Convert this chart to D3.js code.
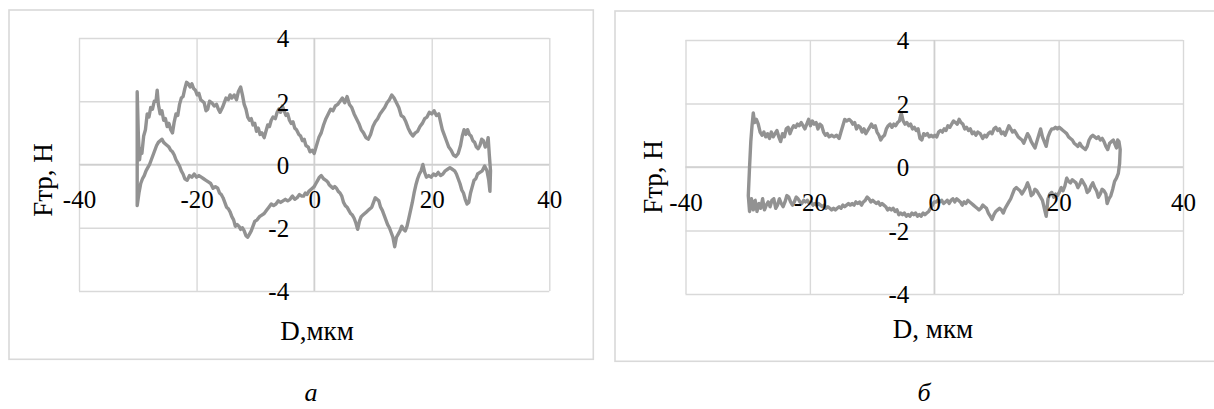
<!DOCTYPE html>
<html>
<head>
<meta charset="utf-8">
<script src="https://cdn.jsdelivr.net/npm/d3@7"></script>
<style>
  html, body { margin: 0; padding: 0; background: #fff; }
  svg { display: block; }
</style>
</head>
<body>
<svg id="fig" width="1214" height="409"></svg>
<script>
// Axis ticks shared by both panels
const dTicks = [-40, -20, 0, 20, 40];
const fTicks = [-4, -2, 0, 2, 4];

// Panel а: friction force loop, upper branch (forward stroke) [D, мкм ; Fтр, Н]
const upperA = [
  [-30.1, -1.3], [-30.1, 2.3], [-29.9, 0.9], [-29.7, 0.15], [-29.5, 0.5], [-29.3, 0.35], [-29.0, 0.9],
  [-28.7, 1.1], [-28.4, 1.6], [-28.1, 1.5], [-27.8, 1.8], [-27.5, 1.75], [-27.2, 2.0], [-26.9, 2.0],
  [-26.7, 2.35], [-26.5, 1.9], [-26.2, 1.6], [-25.9, 1.7], [-25.6, 1.4], [-25.3, 1.45], [-25.0, 1.2],
  [-24.7, 1.3], [-24.4, 1.1], [-24.1, 1.0], [-23.8, 1.35], [-23.5, 1.6], [-23.2, 1.55], [-22.9, 1.9],
  [-22.6, 2.1], [-22.3, 2.15], [-22.0, 2.4], [-21.7, 2.6], [-21.4, 2.55], [-21.1, 2.45], [-20.8, 2.55],
  [-20.5, 2.4], [-20.2, 2.35], [-19.9, 2.2], [-19.6, 2.25], [-19.3, 2.05], [-19.0, 2.0], [-18.7, 1.95],
  [-18.4, 1.7], [-18.1, 1.75], [-17.8, 2.0], [-17.4, 1.95], [-17.0, 1.85], [-16.6, 1.9], [-16.3, 1.75],
  [-16.0, 1.65], [-15.6, 1.8], [-15.3, 1.95], [-15.0, 2.1], [-14.6, 2.05], [-14.3, 2.2], [-14.0, 2.1],
  [-13.6, 2.2], [-13.2, 2.05], [-12.9, 2.3], [-12.5, 2.45], [-12.2, 2.2], [-11.9, 1.9], [-11.6, 1.75],
  [-11.3, 1.5], [-11.0, 1.4], [-10.7, 1.45], [-10.4, 1.25], [-10.1, 1.3], [-9.8, 1.05], [-9.5, 1.15],
  [-9.2, 0.95], [-8.9, 1.0], [-8.5, 0.85], [-8.2, 1.05], [-7.9, 1.25], [-7.6, 1.2], [-7.3, 1.4],
  [-7.0, 1.5], [-6.6, 1.45], [-6.3, 1.65], [-6.0, 1.75], [-5.7, 1.65], [-5.4, 1.85], [-5.1, 1.7],
  [-4.8, 1.55], [-4.5, 1.6], [-4.2, 1.4], [-3.9, 1.3], [-3.6, 1.35], [-3.3, 1.15], [-3.0, 1.1],
  [-2.6, 0.95], [-2.3, 0.9], [-2.0, 0.75], [-1.7, 0.8], [-1.4, 0.6], [-1.0, 0.55], [-0.7, 0.4],
  [-0.3, 0.45], [0.0, 0.35], [0.4, 0.6], [0.8, 0.85], [1.2, 1.0], [1.6, 1.25], [2.0, 1.45], [2.4, 1.6],
  [2.8, 1.75], [3.2, 1.7], [3.6, 1.85], [4.0, 1.9], [4.4, 2.0], [4.8, 2.1], [5.2, 1.95], [5.6, 2.15],
  [6.0, 1.9], [6.4, 1.8], [6.8, 1.6], [7.2, 1.45], [7.6, 1.3], [8.0, 1.1], [8.4, 1.0], [8.8, 0.85],
  [9.2, 0.8], [9.6, 0.95], [10.0, 1.2], [10.4, 1.35], [10.8, 1.45], [11.2, 1.6], [11.6, 1.7],
  [12.0, 1.8], [12.4, 1.95], [12.8, 2.05], [13.2, 2.2], [13.6, 2.1], [14.0, 1.95], [14.4, 1.8],
  [14.8, 1.55], [15.2, 1.5], [15.6, 1.35], [16.0, 1.15], [16.4, 1.0], [16.8, 0.9], [17.2, 1.0],
  [17.6, 1.05], [18.0, 1.2], [18.4, 1.3], [18.8, 1.45], [19.2, 1.5], [19.6, 1.65], [20.0, 1.6],
  [20.4, 1.7], [20.8, 1.55], [21.2, 1.6], [21.5, 1.35], [21.8, 1.1], [22.1, 0.95], [22.5, 0.75],
  [22.9, 0.55], [23.3, 0.45], [23.7, 0.3], [24.1, 0.25], [24.5, 0.35], [24.9, 0.6], [25.2, 0.9],
  [25.5, 1.1], [25.8, 0.95], [26.1, 1.1], [26.4, 0.95], [26.7, 0.9], [27.0, 0.75], [27.3, 0.7],
  [27.6, 0.55], [27.9, 0.5], [28.2, 0.6], [28.5, 0.8], [28.8, 0.75], [29.1, 0.55], [29.4, 0.65],
  [29.6, 0.85], [29.8, 0.3], [30.0, -0.2], [29.9, -0.85], [29.7, -0.5]
];

// Panel а: lower branch (return stroke)
const lowerA = [
  [29.7, -0.5], [29.4, -0.2], [29.0, -0.05], [28.6, -0.2], [28.2, -0.25], [27.8, -0.3], [27.5, -0.45],
  [27.2, -0.5], [26.9, -0.7], [26.6, -0.9], [26.3, -1.2], [26.0, -1.25], [25.7, -1.1], [25.4, -0.9],
  [25.1, -0.8], [24.8, -0.6], [24.5, -0.45], [24.2, -0.3], [23.9, -0.2], [23.5, -0.15], [23.1, -0.1],
  [22.7, -0.15], [22.3, -0.2], [21.9, -0.3], [21.5, -0.35], [21.1, -0.25], [20.7, -0.35], [20.3, -0.3],
  [19.9, -0.4], [19.5, -0.35], [19.1, -0.4], [18.8, -0.25], [18.5, 0.0], [18.2, -0.2], [17.9, -0.3],
  [17.6, -0.45], [17.3, -0.65], [17.0, -0.9], [16.7, -1.2], [16.4, -1.45], [16.1, -1.7], [15.8, -1.95],
  [15.5, -2.1], [15.2, -2.05], [14.9, -1.95], [14.6, -2.1], [14.3, -2.2], [14.0, -2.3], [13.7, -2.6],
  [13.4, -2.3], [13.1, -2.15], [12.8, -2.0], [12.5, -1.9], [12.2, -1.75], [11.9, -1.6], [11.6, -1.45],
  [11.3, -1.35], [11.0, -1.15], [10.7, -1.1], [10.4, -1.05], [10.1, -1.2], [9.8, -1.35], [9.5, -1.4],
  [9.2, -1.45], [8.9, -1.5], [8.6, -1.55], [8.3, -1.6], [8.0, -1.65], [7.7, -1.8], [7.4, -2.05],
  [7.1, -1.85], [6.8, -1.7], [6.5, -1.6], [6.2, -1.55], [5.9, -1.45], [5.6, -1.35], [5.3, -1.3],
  [5.0, -1.2], [4.7, -1.0], [4.4, -0.9], [4.1, -0.85], [3.8, -0.75], [3.5, -0.7], [3.2, -0.75],
  [2.9, -0.7], [2.6, -0.65], [2.3, -0.55], [2.0, -0.5], [1.6, -0.45], [1.2, -0.35], [0.9, -0.4],
  [0.6, -0.5], [0.3, -0.6], [0.0, -0.7], [-0.3, -0.75], [-0.6, -0.8], [-0.9, -0.85], [-1.2, -0.95],
  [-1.5, -0.9], [-1.8, -1.0], [-2.1, -1.0], [-2.5, -0.95], [-2.9, -1.05], [-3.3, -1.1], [-3.7, -1.0],
  [-4.1, -1.1], [-4.5, -1.15], [-4.9, -1.1], [-5.3, -1.15], [-5.7, -1.2], [-6.1, -1.15], [-6.5, -1.25],
  [-6.9, -1.3], [-7.3, -1.25], [-7.7, -1.35], [-8.1, -1.45], [-8.5, -1.55], [-8.9, -1.6], [-9.3, -1.65],
  [-9.7, -1.75], [-10.1, -1.8], [-10.4, -1.95], [-10.7, -2.1], [-11.0, -2.2], [-11.3, -2.3],
  [-11.6, -2.25], [-11.9, -2.1], [-12.2, -2.0], [-12.5, -2.05], [-12.8, -1.95], [-13.1, -1.9],
  [-13.4, -1.95], [-13.7, -1.75], [-14.0, -1.65], [-14.3, -1.5], [-14.6, -1.4], [-14.9, -1.35],
  [-15.2, -1.2], [-15.5, -1.05], [-15.8, -0.95], [-16.1, -0.9], [-16.4, -0.75], [-16.8, -0.7],
  [-17.2, -0.75], [-17.6, -0.6], [-18.0, -0.55], [-18.4, -0.5], [-18.8, -0.45], [-19.2, -0.4],
  [-19.6, -0.35], [-20.0, -0.4], [-20.4, -0.3], [-20.8, -0.4], [-21.2, -0.35], [-21.6, -0.5],
  [-22.0, -0.45], [-22.3, -0.3], [-22.6, -0.2], [-22.9, -0.05], [-23.2, 0.05], [-23.5, 0.15],
  [-23.8, 0.3], [-24.1, 0.4], [-24.4, 0.45], [-24.7, 0.55], [-25.0, 0.6], [-25.3, 0.65], [-25.6, 0.7],
  [-25.9, 0.8], [-26.2, 0.75], [-26.5, 0.7], [-26.8, 0.6], [-27.1, 0.45], [-27.4, 0.3], [-27.7, 0.15],
  [-28.0, 0.0], [-28.3, -0.1], [-28.6, -0.2], [-28.9, -0.35], [-29.2, -0.45], [-29.5, -0.6],
  [-29.8, -0.9], [-30.1, -1.3]
];

// Panel б: upper branch
const upperB = [
  [-29.9, -0.9], [-29.7, 0.0], [-29.5, 0.8], [-29.3, 1.3], [-29.1, 1.7], [-28.9, 1.4], [-28.6, 1.5],
  [-28.3, 1.35], [-28.0, 1.1], [-27.7, 1.0], [-27.4, 1.1], [-27.1, 0.95], [-26.8, 1.05], [-26.5, 0.9],
  [-26.2, 1.1], [-25.9, 0.95], [-25.6, 1.05], [-25.3, 1.15], [-25.0, 0.95], [-24.7, 0.8], [-24.4, 1.05],
  [-24.1, 0.95], [-23.8, 1.2], [-23.5, 1.25], [-23.2, 1.05], [-22.9, 1.2], [-22.6, 1.3], [-22.3, 1.25],
  [-22.0, 1.35], [-21.7, 1.3], [-21.4, 1.4], [-21.1, 1.3], [-20.8, 1.2], [-20.5, 1.35], [-20.2, 1.5],
  [-19.9, 1.3], [-19.6, 1.45], [-19.3, 1.35], [-19.0, 1.4], [-18.7, 1.2], [-18.4, 1.35], [-18.1, 1.3],
  [-17.8, 1.1], [-17.5, 1.0], [-17.2, 1.05], [-16.9, 0.95], [-16.5, 1.0], [-16.1, 0.95], [-15.7, 1.0],
  [-15.3, 0.9], [-15.0, 1.1], [-14.7, 1.3], [-14.4, 1.5], [-14.1, 1.45], [-13.7, 1.5], [-13.4, 1.45],
  [-13.1, 1.35], [-12.8, 1.4], [-12.5, 1.2], [-12.2, 1.3], [-11.9, 1.25], [-11.6, 1.1], [-11.3, 1.2],
  [-11.0, 1.05], [-10.7, 1.15], [-10.4, 1.25], [-10.1, 1.35], [-9.8, 1.25], [-9.5, 1.3], [-9.2, 1.1],
  [-8.9, 1.0], [-8.6, 0.85], [-8.3, 0.95], [-8.0, 1.0], [-7.7, 1.2], [-7.4, 1.3], [-7.1, 1.35],
  [-6.8, 1.25], [-6.5, 1.35], [-6.2, 1.3], [-5.9, 1.4], [-5.6, 1.45], [-5.3, 1.7], [-5.0, 1.45],
  [-4.7, 1.35], [-4.4, 1.4], [-4.1, 1.3], [-3.8, 1.35], [-3.5, 1.2], [-3.2, 1.25], [-2.9, 1.15],
  [-2.6, 1.2], [-2.3, 0.9], [-2.0, 0.85], [-1.7, 1.05], [-1.4, 1.0], [-1.1, 1.05], [-0.8, 0.95],
  [-0.5, 1.0], [-0.2, 0.95], [0.1, 1.0], [0.4, 0.95], [0.7, 1.1], [1.0, 1.15], [1.3, 1.1], [1.6, 1.2],
  [1.9, 1.15], [2.2, 1.3], [2.5, 1.25], [2.8, 1.35], [3.1, 1.45], [3.4, 1.4], [3.7, 1.35], [4.0, 1.5],
  [4.3, 1.4], [4.6, 1.35], [4.9, 1.2], [5.2, 1.25], [5.5, 1.15], [5.8, 1.2], [6.1, 1.05], [6.4, 1.1],
  [6.7, 1.0], [7.0, 1.1], [7.4, 1.05], [7.8, 0.9], [8.1, 1.0], [8.4, 0.95], [8.7, 1.05], [9.0, 1.1],
  [9.3, 1.05], [9.6, 1.2], [9.9, 1.25], [10.2, 1.15], [10.5, 1.2], [10.8, 1.05], [11.1, 1.1],
  [11.4, 1.0], [11.7, 1.15], [12.0, 1.3], [12.3, 1.2], [12.6, 1.1], [12.9, 1.15], [13.2, 1.05],
  [13.5, 0.95], [13.8, 0.9], [14.1, 0.85], [14.4, 0.75], [14.7, 0.9], [15.0, 1.05], [15.3, 0.95],
  [15.6, 0.8], [15.9, 0.7], [16.2, 0.6], [16.5, 0.8], [16.8, 1.0], [17.1, 1.2], [17.4, 0.95],
  [17.7, 0.8], [18.0, 0.65], [18.3, 0.95], [18.6, 1.1], [18.9, 1.2], [19.2, 1.2], [19.5, 1.25],
  [19.8, 1.2], [20.1, 1.25], [20.4, 1.2], [20.7, 1.15], [21.0, 1.1], [21.3, 1.05], [21.6, 0.95],
  [21.9, 0.9], [22.2, 0.85], [22.5, 0.75], [22.8, 0.7], [23.1, 0.65], [23.4, 0.75], [23.7, 0.65],
  [24.0, 0.6], [24.3, 0.55], [24.6, 0.65], [24.9, 0.85], [25.2, 0.95], [25.5, 1.0], [25.8, 0.95],
  [26.1, 0.9], [26.4, 0.95], [26.7, 0.85], [27.0, 0.9], [27.3, 0.8], [27.6, 0.65], [27.9, 0.55],
  [28.2, 0.75], [28.5, 0.8], [28.8, 0.85], [29.1, 0.7], [29.3, 0.6], [29.5, 0.85], [29.7, 0.8],
  [29.9, 0.55], [29.8, 0.1], [29.6, -0.2], [29.3, -0.35], [29.0, -0.45], [28.7, -0.7], [28.4, -0.9],
  [28.1, -1.0]
];

// Panel б: lower branch
const lowerB = [
  [28.1, -1.0], [27.8, -1.15], [27.6, -0.85], [27.3, -0.75], [27.0, -0.7], [26.7, -0.85], [26.4, -0.95],
  [26.1, -0.75], [25.8, -0.65], [25.5, -0.5], [25.2, -0.6], [24.9, -0.75], [24.6, -0.8], [24.3, -0.6],
  [24.0, -0.5], [23.7, -0.4], [23.4, -0.55], [23.1, -0.65], [22.8, -0.5], [22.5, -0.45], [22.2, -0.4],
  [21.9, -0.5], [21.6, -0.45], [21.3, -0.35], [21.0, -0.6], [20.7, -0.75], [20.4, -0.65], [20.1, -0.8],
  [19.8, -0.9], [19.5, -0.85], [19.2, -0.95], [18.9, -0.8], [18.6, -0.85], [18.3, -1.0], [18.0, -1.55],
  [17.7, -1.3], [17.4, -1.05], [17.1, -0.95], [16.8, -0.85], [16.5, -0.75], [16.2, -0.7], [15.9, -0.85],
  [15.6, -0.9], [15.3, -0.65], [15.0, -0.5], [14.7, -0.65], [14.4, -0.75], [14.1, -0.85], [13.8, -0.75],
  [13.5, -0.7], [13.2, -0.65], [12.9, -0.7], [12.6, -0.85], [12.3, -1.0], [12.0, -1.1], [11.7, -1.2],
  [11.4, -1.3], [11.1, -1.45], [10.8, -1.35], [10.5, -1.3], [10.2, -1.35], [9.9, -1.4], [9.6, -1.5],
  [9.3, -1.65], [9.0, -1.55], [8.7, -1.45], [8.4, -1.3], [8.1, -1.25], [7.8, -1.2], [7.5, -1.3],
  [7.2, -1.35], [6.9, -1.3], [6.6, -1.25], [6.3, -1.2], [6.0, -1.15], [5.7, -1.1], [5.4, -1.05],
  [5.1, -1.15], [4.8, -1.1], [4.5, -1.2], [4.2, -1.1], [3.9, -1.05], [3.6, -1.0], [3.3, -1.1],
  [3.0, -1.0], [2.7, -1.05], [2.4, -1.15], [2.1, -1.05], [1.8, -1.1], [1.5, -1.15], [1.2, -1.05],
  [0.9, -1.1], [0.6, -1.05], [0.3, -1.1], [0.0, -1.1], [-0.3, -1.2], [-0.6, -1.3], [-0.9, -1.4],
  [-1.2, -1.45], [-1.5, -1.5], [-1.8, -1.45], [-2.1, -1.55], [-2.4, -1.5], [-2.7, -1.55], [-3.0, -1.45],
  [-3.3, -1.5], [-3.6, -1.45], [-3.9, -1.55], [-4.2, -1.5], [-4.5, -1.55], [-4.8, -1.45], [-5.1, -1.5],
  [-5.4, -1.45], [-5.7, -1.5], [-6.0, -1.35], [-6.3, -1.4], [-6.6, -1.3], [-6.9, -1.35], [-7.2, -1.3],
  [-7.5, -1.35], [-7.8, -1.25], [-8.1, -1.2], [-8.4, -1.15], [-8.7, -1.2], [-9.0, -1.1], [-9.3, -1.15],
  [-9.6, -1.1], [-9.9, -1.05], [-10.2, -1.1], [-10.5, -1.0], [-10.8, -0.95], [-11.1, -1.05],
  [-11.4, -1.1], [-11.7, -1.2], [-12.0, -1.1], [-12.3, -1.15], [-12.6, -1.1], [-12.9, -1.2],
  [-13.2, -1.15], [-13.5, -1.2], [-13.8, -1.15], [-14.1, -1.2], [-14.4, -1.25], [-14.7, -1.2],
  [-15.0, -1.3], [-15.3, -1.25], [-15.6, -1.3], [-15.9, -1.35], [-16.2, -1.3], [-16.5, -1.35],
  [-16.8, -1.3], [-17.1, -1.25], [-17.4, -1.3], [-17.7, -1.2], [-18.0, -1.25], [-18.3, -1.2],
  [-18.6, -1.15], [-18.9, -1.2], [-19.2, -1.15], [-19.5, -1.2], [-19.8, -1.1], [-20.1, -1.15],
  [-20.4, -1.05], [-20.7, -1.1], [-21.0, -1.05], [-21.3, -1.15], [-21.6, -1.1], [-21.9, -1.0],
  [-22.2, -0.95], [-22.5, -1.1], [-22.8, -1.2], [-23.1, -1.1], [-23.4, -0.95], [-23.7, -0.9],
  [-24.0, -1.1], [-24.3, -1.25], [-24.6, -1.15], [-24.9, -1.0], [-25.2, -1.2], [-25.5, -1.3],
  [-25.8, -1.0], [-26.1, -1.05], [-26.4, -1.25], [-26.7, -1.1], [-27.0, -1.2], [-27.3, -1.35],
  [-27.6, -1.0], [-27.9, -1.3], [-28.2, -1.15], [-28.5, -1.4], [-28.8, -1.05], [-29.1, -1.35],
  [-29.4, -1.0], [-29.7, -1.4], [-29.9, -0.9]
];

const svg = d3.select("#fig");
const serif = "'Liberation Serif', 'DejaVu Serif', 'Times New Roman', serif";
const plainNumber = d => String(d);   // hyphen-minus, as in the figure

const panels = [
  {
    frame: { x: 9, y: 10, w: 584.3, h: 349.3 },
    plot: { l: 79, r: 549.3, t: 38, b: 291 },
    branches: [upperA, lowerA],
    xTitle: "D,мкм", xTitlePos: [317, 340],
    yTitlePos: [43, 180],
    caption: "а", captionPos: [311, 401]
  },
  {
    frame: { x: 615, y: 11, w: 620, h: 350.3 },
    plot: { l: 685.5, r: 1183, t: 40, b: 294 },
    branches: [upperB, lowerB],
    xTitle: "D, мкм", xTitlePos: [933, 338],
    yTitlePos: [653, 177],
    caption: "б", captionPos: [924, 401]
  }
];

const gridColor = "#d9d9d9";
const lineColor = "#929292";

panels.forEach(p => {
  const g = svg.append("g");

  // chart frame
  g.append("rect")
    .attr("x", p.frame.x).attr("y", p.frame.y)
    .attr("width", p.frame.w).attr("height", p.frame.h)
    .attr("fill", "#fff").attr("stroke", gridColor).attr("stroke-width", 1.6);

  const x = d3.scaleLinear().domain([-40, 40]).range([p.plot.l, p.plot.r]);
  const y = d3.scaleLinear().domain([-4, 4]).range([p.plot.b, p.plot.t]);

  // vertical gridlines
  g.append("g")
    .attr("transform", `translate(0,${p.plot.b})`)
    .call(d3.axisBottom(x).tickValues(dTicks).tickSize(-(p.plot.b - p.plot.t)).tickFormat(""))
    .call(a => a.select(".domain").remove())
    .call(a => a.selectAll("line").attr("stroke", gridColor).attr("stroke-width", 1.4));

  // horizontal gridlines
  g.append("g")
    .attr("transform", `translate(${p.plot.l},0)`)
    .call(d3.axisLeft(y).tickValues(fTicks).tickSize(-(p.plot.r - p.plot.l)).tickFormat(""))
    .call(a => a.select(".domain").remove())
    .call(a => a.selectAll("line").attr("stroke", gridColor).attr("stroke-width", 1.4));

  // zero axes
  g.append("line")
    .attr("x1", x(0)).attr("x2", x(0)).attr("y1", p.plot.t).attr("y2", p.plot.b)
    .attr("stroke", "#cfcfcf").attr("stroke-width", 1.4);
  g.append("line")
    .attr("x1", p.plot.l).attr("x2", p.plot.r).attr("y1", y(0)).attr("y2", y(0))
    .attr("stroke", "#cfcfcf").attr("stroke-width", 1.4);

  // loop curve
  const line = d3.line().x(d => x(d[0])).y(d => y(d[1]));
  g.append("path")
    .datum(p.branches[0].concat(p.branches[1].slice(1)))
    .attr("d", line)
    .attr("fill", "none")
    .attr("stroke", lineColor)
    .attr("stroke-width", 3.4)
    .attr("stroke-linejoin", "round")
    .attr("stroke-linecap", "round");

  // tick labels: D below the zero line, F to the left of the zero line
  g.append("g")
    .attr("transform", `translate(0,${y(0)})`)
    .call(d3.axisBottom(x).tickValues(dTicks).tickSize(0).tickPadding(0).tickFormat(plainNumber))
    .call(a => a.select(".domain").remove())
    .call(a => a.selectAll("text")
      .attr("y", 35).attr("dy", "0.35em")
      .style("font-family", serif).style("font-size", "25px").attr("fill", "#000"));

  g.append("g")
    .attr("transform", `translate(${x(0)},0)`)
    .call(d3.axisLeft(y).tickValues(fTicks).tickSize(0).tickPadding(25).tickFormat(plainNumber))
    .call(a => a.select(".domain").remove())
    .call(a => a.selectAll("text")
      .attr("dy", "0.35em")
      .style("font-family", serif).style("font-size", "25px").attr("fill", "#000"));

  // axis titles
  g.append("text")
    .attr("x", p.xTitlePos[0]).attr("y", p.xTitlePos[1])
    .attr("text-anchor", "middle")
    .style("font-family", serif).style("font-size", "27px")
    .text(p.xTitle);

  g.append("text")
    .attr("transform", `translate(${p.yTitlePos[0]},${p.yTitlePos[1]}) rotate(-90)`)
    .attr("text-anchor", "middle")
    .attr("dy", "0.35em")
    .style("font-family", serif).style("font-size", "27px")
    .text("Fтр, Н");

  // panel caption
  g.append("text")
    .attr("x", p.captionPos[0]).attr("y", p.captionPos[1])
    .attr("text-anchor", "middle")
    .style("font-family", serif).style("font-size", "26px").style("font-style", "italic")
    .text(p.caption);
});
</script>
</body>
</html>
